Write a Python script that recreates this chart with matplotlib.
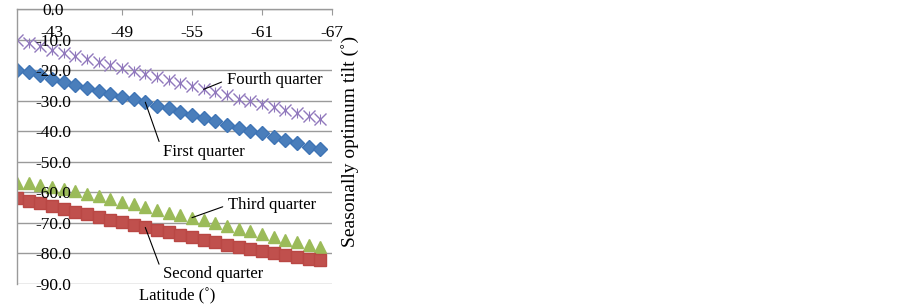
import matplotlib
matplotlib.use("Agg")
import matplotlib.pyplot as plt

plt.rcParams["font.family"] = ["Liberation Serif", "DejaVu Serif"]

# latitude categories (degrees)
latitude = [-40, -41, -42, -43, -44, -45, -46, -47, -48, -49, -50, -51, -52, -53,
            -54, -55, -56, -57, -58, -59, -60, -61, -62, -63, -64, -65, -66]

first_quarter = [-20.0, -20.5, -21.6, -22.8, -23.8, -24.8, -25.8, -26.8, -27.9, -28.7,
                 -29.6, -30.5, -31.6, -32.5, -33.6, -34.8, -35.7, -36.8, -37.9, -38.9,
                 -40.0, -40.7, -41.8, -42.8, -43.8, -45.0, -45.8]
second_quarter = [-61.8, -62.7, -63.6, -64.5, -65.4, -66.3, -67.2, -68.1, -69.0, -69.8,
                  -70.7, -71.5, -72.3, -73.1, -73.9, -74.7, -75.5, -76.3, -77.1, -77.8,
                  -78.5, -79.2, -79.9, -80.6, -81.2, -81.8, -82.3]
third_quarter = [-56.8, -57.1, -57.7, -58.3, -59.0, -59.7, -60.4, -61.3, -62.2, -63.0,
                 -63.9, -64.8, -65.8, -66.6, -67.4, -68.3, -69.2, -70.1, -71.0, -71.9,
                 -72.8, -73.7, -74.6, -75.5, -76.4, -77.3, -78.0]
fourth_quarter = [-10.0, -11.1, -12.2, -13.3, -14.3, -15.3, -16.4, -17.4, -18.4, -19.4,
                  -20.4, -21.4, -22.4, -23.3, -24.3, -25.3, -26.3, -27.3, -28.3, -29.3,
                  -30.2, -31.2, -32.1, -33.0, -34.0, -35.0, -36.0]

x_ticks = [-43, -49, -55, -61, -67]
y_ticks = [0, -10, -20, -30, -40, -50, -60, -70, -80, -90]

grey = "#9a9a9a"

fig = plt.figure(figsize=(9.03, 3.08), dpi=100)
ax = fig.add_axes([0.0188, 0.0779, 0.3488, 0.8929])
ax.set_axisbelow(False)  # tick labels sit on top of the markers

ax.set_xlim(-40, -67)
ax.set_ylim(-90, 0)

# gridlines behind the markers
for y in y_ticks:
    ax.axhline(y, color=grey, lw=1.0, zorder=0.5)

# star marker = x plus a vertical bar
ax.plot(latitude, fourth_quarter, ls="none", marker="x", ms=8, mew=1.0,
        color="#9179bd", zorder=2)
ax.plot(latitude, fourth_quarter, ls="none", marker="|", ms=7, mew=0.8,
        color="#9179bd", zorder=2)
ax.plot(latitude, first_quarter, ls="none", marker="D", ms=7, color="#4a7ebb",
        mec="#3e74b5", zorder=2)
ax.plot(latitude, third_quarter, ls="none", marker="^", ms=8, color="#9bbb59",
        mec="#9bbb59", zorder=2)
ax.plot(latitude, second_quarter, ls="none", marker="s", ms=8.5, color="#c0504d",
        mec="#b94744", zorder=2.1)

# spines
for side in ("right", "bottom"):
    ax.spines[side].set_visible(False)
for side in ("left", "top"):
    ax.spines[side].set_color(grey)
    ax.spines[side].set_linewidth(1.0)

ax.set_xticks(x_ticks)
ax.set_xticklabels([str(v) for v in x_ticks])
ax.tick_params(axis="x", bottom=False, labelbottom=False, top=True, labeltop=True,
               direction="in", length=4, color=grey, pad=-23, labelsize=12.5)

ax.set_yticks(y_ticks)
ax.set_yticklabels([f"{v:.1f}" for v in y_ticks])
ax.tick_params(axis="y", length=0, pad=-26, labelsize=12.5)
for lab in ax.get_yticklabels():
    lab.set_horizontalalignment("center")

ax.set_xlabel("Latitude (˚)", fontsize=12)
ax.xaxis.set_label_position("bottom")
ax.xaxis.set_label_coords(0.51, -0.015)
ax.set_ylabel("Seasonally optimum tilt (˚)", fontsize=14)
ax.yaxis.set_label_position("right")
ax.yaxis.set_label_coords(1.03, 0.52)

# series labels with leader lines
leader = dict(arrowstyle="-", color="black", lw=0.8, relpos=(0, 0.5),
              shrinkA=2, shrinkB=0)
ax.annotate("Fourth quarter", xy=(latitude[16], fourth_quarter[16]), xytext=(-58.0, -23.2),
            ha="left", va="center", fontsize=12, arrowprops=leader)
ax.annotate("First quarter", xy=(latitude[11], first_quarter[11]), xytext=(-52.5, -46.8),
            ha="left", va="center", fontsize=12, arrowprops=leader)
ax.annotate("Third quarter", xy=(latitude[15], third_quarter[15]), xytext=(-58.1, -64.1),
            ha="left", va="center", fontsize=12, arrowprops=leader)
ax.annotate("Second quarter", xy=(latitude[11], second_quarter[11]), xytext=(-52.5, -86.8),
            ha="left", va="center", fontsize=12, arrowprops=leader)

fig.savefig("out.png", dpi=100)
